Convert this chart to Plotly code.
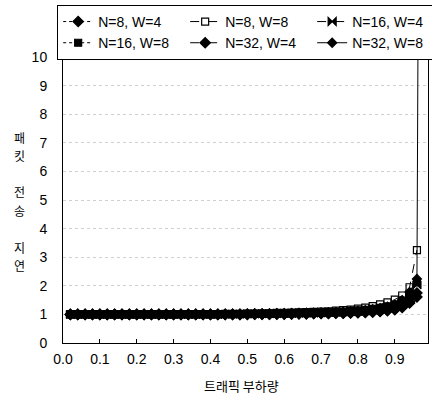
import plotly.graph_objects as go

loads = [0.02, 0.04, 0.06, 0.08, 0.10, 0.12, 0.14, 0.16, 0.18, 0.20,
         0.22, 0.24, 0.26, 0.28, 0.30, 0.32, 0.34, 0.36, 0.38, 0.40,
         0.42, 0.44, 0.46, 0.48, 0.50, 0.52, 0.54, 0.56, 0.58, 0.60,
         0.62, 0.64, 0.66, 0.68, 0.70, 0.72, 0.74, 0.76, 0.78, 0.80,
         0.82, 0.84, 0.86, 0.88, 0.90, 0.92, 0.94, 0.96, 0.98]

n8_w4 = [1.00]*20 + [1.00, 1.00, 1.00, 1.00, 1.00,
                     1.01, 1.01, 1.01, 1.01, 1.01,
                     1.02, 1.02, 1.02, 1.03, 1.03,
                     1.03, 1.04, 1.04, 1.05, 1.06,
                     1.07, 1.08, 1.10, 1.13, 1.16,
                     1.24, 1.40, 1.61, None]
n8_w8 = [1.00]*15 + [1.01]*5 + [1.01, 1.02, 1.02, 1.02, 1.03,
                                1.03, 1.04, 1.04, 1.05, 1.05,
                                1.06, 1.07, 1.08, 1.09, 1.10,
                                1.11, 1.13, 1.15, 1.17, 1.20,
                                1.24, 1.29, 1.35, 1.42, 1.52,
                                1.66, 1.95, 3.25, None]
n16_w4 = [1.00]*20 + [1.00, 1.00, 1.01, 1.01, 1.01,
                      1.01, 1.02, 1.02, 1.02, 1.03,
                      1.03, 1.04, 1.04, 1.05, 1.05,
                      1.06, 1.07, 1.08, 1.09, 1.10,
                      1.12, 1.15, 1.18, 1.22, 1.27,
                      1.42, 1.65, 2.03, None]
n16_w8 = [1.00]*20 + [1.00, 1.01, 1.01, 1.01, 1.02,
                      1.02, 1.02, 1.03, 1.03, 1.04,
                      1.04, 1.05, 1.05, 1.06, 1.07,
                      1.08, 1.09, 1.10, 1.12, 1.14,
                      1.16, 1.19, 1.23, 1.28, 1.35,
                      1.48, 1.72, 2.12, None]
n32_w4 = [1.00]*20 + [1.00, 1.00, 1.00, 1.00, 1.01,
                      1.01, 1.01, 1.01, 1.02, 1.02,
                      1.02, 1.03, 1.03, 1.03, 1.04,
                      1.04, 1.05, 1.05, 1.06, 1.07,
                      1.08, 1.10, 1.12, 1.15, 1.19,
                      1.28, 1.45, 1.75, None]
n32_w8 = [1.00]*20 + [1.00, 1.01, 1.01, 1.01, 1.01,
                      1.02, 1.02, 1.02, 1.03, 1.03,
                      1.04, 1.04, 1.05, 1.05, 1.06,
                      1.07, 1.08, 1.09, 1.11, 1.12,
                      1.15, 1.18, 1.22, 1.27, 1.33,
                      1.50, 1.78, 2.24, 60.0]

series_names = ["N=8, W=4", "N=8, W=8", "N=16, W=4", "N=16, W=8", "N=32, W=4", "N=32, W=8"]
series_vals = [n8_w4, n8_w8, n16_w4, n16_w8, n32_w4, n32_w8]
x_ticks = [0.0, 0.1, 0.2, 0.3, 0.4, 0.5, 0.6, 0.7, 0.8, 0.9]
x_ticktext = ["0.0", "0.1", "0.2", "0.3", "0.4", "0.5", "0.6", "0.7", "0.8", "0.9"]
y_title_chars = ["패", "킷", "전", "송", "지", "연"]
y_title_pos = [7.2, 6.55, 5.3, 4.65, 3.35, 2.7]
x_title = "트래픽 부하량"

styles = [
    dict(symbol="diamond", size=8, dash="dot"),
    dict(symbol="square-open", size=7, dash="dash"),
    dict(symbol="bowtie", size=8, dash="dash"),
    dict(symbol="square", size=7, dash="dot"),
    dict(symbol="diamond", size=8, dash="dashdot"),
    dict(symbol="diamond", size=7, dash="solid"),
]

fig = go.Figure()
for name, vals, st in zip(series_names, series_vals, styles):
    fig.add_trace(go.Scatter(
        x=loads, y=vals, name=name, mode="lines+markers",
        connectgaps=False,
        line=dict(color="black", width=1, dash=st["dash"]),
        marker=dict(symbol=st["symbol"], size=st["size"], color="black",
                    line=dict(color="black", width=1.2)),
    ))

font_main = "Liberation Sans, Arial, sans-serif"
annotations = [
    dict(text=x_title, xref="paper", yref="paper", x=0.49, y=-0.147,
         xanchor="center", yanchor="middle", showarrow=False,
         font=dict(family="Noto Sans CJK KR", size=13, color="black")),
]
for ch, yv in zip(y_title_chars, y_title_pos):
    annotations.append(dict(
        text=ch, xref="paper", yref="y", x=-0.118, y=yv,
        xanchor="center", yanchor="middle", showarrow=False,
        font=dict(family="Noto Sans CJK KR", size=12, color="black")))

fig.update_layout(
    width=432, height=400,
    margin=dict(l=63, r=4, t=57, b=57, autoexpand=False),
    paper_bgcolor="white", plot_bgcolor="white",
    font=dict(family=font_main, size=14, color="black"),
    showlegend=True,
    legend=dict(
        orientation="h",
        x=-0.016, xanchor="left", y=1.182, yanchor="top",
        bordercolor="black", borderwidth=1, bgcolor="white",
        font=dict(size=14, family=font_main),
        entrywidth=82, entrywidthmode="pixels",
        itemwidth=30, tracegroupgap=0,
    ),
    xaxis=dict(
        range=[0, 0.99], tickvals=x_ticks, ticktext=x_ticktext,
        showgrid=False, zeroline=False,
        showline=True, linecolor="black", linewidth=1, mirror=True,
        ticks="inside", ticklen=4, tickcolor="black",
        ticklabelstandoff=3,
        tickfont=dict(size=14),
    ),
    yaxis=dict(
        range=[0, 10], dtick=1, tick0=0,
        showgrid=True, gridcolor="#d0d0d0", griddash="dot", gridwidth=1,
        zeroline=False,
        showline=True, linecolor="black", linewidth=1, mirror=True,
        ticks="", ticklabelstandoff=12,
        tickfont=dict(size=14),
    ),
    annotations=annotations,
)

fig.write_html(
    "out.html",
    config={"displayModeBar": False},
    post_script="document.body.style.margin='0';document.body.style.padding='0';",
)
